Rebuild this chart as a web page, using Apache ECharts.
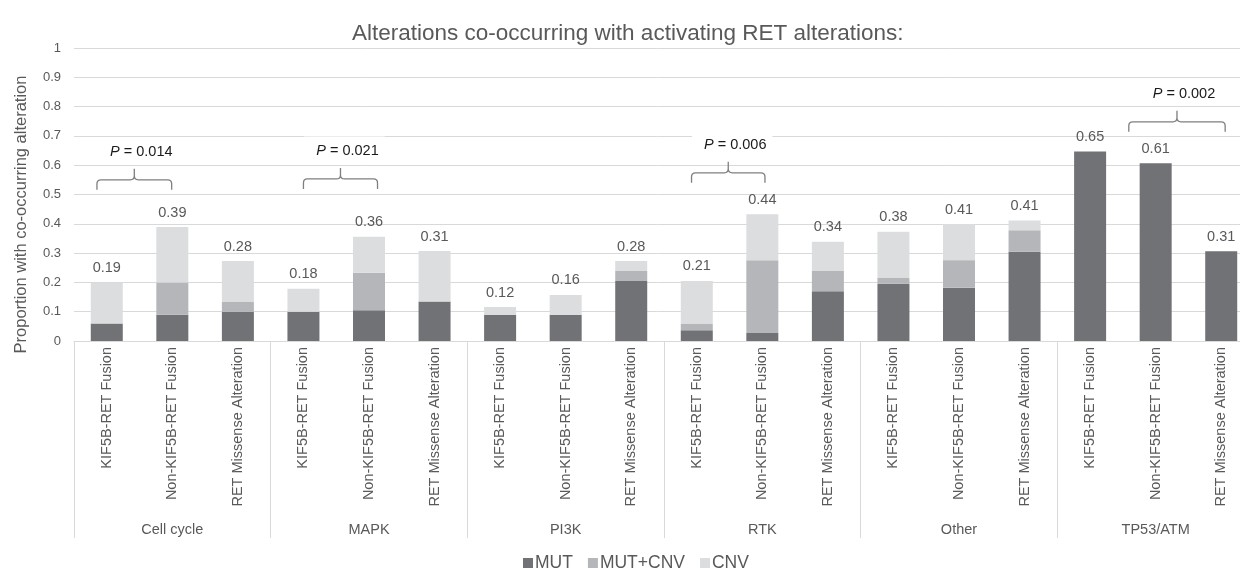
<!DOCTYPE html>
<html>
<head>
<meta charset="utf-8">
<script src="https://cdn.jsdelivr.net/npm/echarts@6/dist/echarts.min.js"></script>
<style>
html,body{margin:0;padding:0;background:#fff;}
#c{width:1240px;height:568px;}
</style>
</head>
<body>
<div id="c"></div>
<script>
const subtypes = ['KIF5B-RET Fusion', 'Non-KIF5B-RET Fusion', 'RET Missense Alteration'];
const groups = ['Cell cycle', 'MAPK', 'PI3K', 'RTK', 'Other', 'TP53/ATM'];
const categories = groups.flatMap(() => subtypes);

const mut    = [0.060, 0.090, 0.100, 0.100, 0.105, 0.135, 0.090, 0.090, 0.205, 0.037, 0.027, 0.170, 0.195, 0.182, 0.305, 0.647, 0.607, 0.306];
const mutCnv = [0.000, 0.110, 0.033, 0.000, 0.128, 0.000, 0.000, 0.000, 0.034, 0.023, 0.249, 0.069, 0.020, 0.094, 0.073, 0.000, 0.000, 0.000];
const cnv    = [0.139, 0.189, 0.140, 0.078, 0.123, 0.172, 0.026, 0.067, 0.034, 0.145, 0.157, 0.100, 0.158, 0.123, 0.033, 0.000, 0.000, 0.000];
const totalLabels = ['0.19', '0.39', '0.28', '0.18', '0.36', '0.31', '0.12', '0.16', '0.28', '0.21', '0.44', '0.34', '0.38', '0.41', '0.41', '0.65', '0.61', '0.31'];

// brackets: [startIndex, startOffset, endIndex, endOffset, yValue]
const bracketPos = [
  [0, -0.15, 1, -0.01, 0.550],
  [3, 0.00, 4, 0.13, 0.553],
  [9, -0.08, 10, 0.04, 0.574],
  [16, -0.41, 17, 0.06, 0.748]
];
const bracketP = ['0.014', '0.021', '0.006', '0.002'];

const yTicks = [0, 0.1, 0.2, 0.3, 0.4, 0.5, 0.6, 0.7, 0.8, 0.9, 1];

const FONT = '"Liberation Sans", Arial, sans-serif';
const chart = echarts.init(document.getElementById('c'), null, {renderer: 'canvas'});

function renderBracket(params, api) {
  const s = api.coord([api.value(0), 0]);
  const e = api.coord([api.value(2), 0]);
  const band = api.size([1, 0])[0];
  const x1 = s[0] + api.value(1) * band;
  const x2 = e[0] + api.value(3) * band;
  const y = api.coord([0, api.value(4)])[1];
  const xm = (x1 + x2) / 2;
  const d = 10, n = 11, r = 4;
  const path =
    'M' + x1 + ' ' + (y + d) +
    ' L' + x1 + ' ' + (y + r) +
    ' Q' + x1 + ' ' + y + ' ' + (x1 + r) + ' ' + y +
    ' L' + (xm - r) + ' ' + y +
    ' Q' + xm + ' ' + y + ' ' + xm + ' ' + (y - r) +
    ' L' + xm + ' ' + (y - n) +
    ' M' + xm + ' ' + (y - r) +
    ' Q' + xm + ' ' + y + ' ' + (xm + r) + ' ' + y +
    ' L' + (x2 - r) + ' ' + y +
    ' Q' + x2 + ' ' + y + ' ' + x2 + ' ' + (y + r) +
    ' L' + x2 + ' ' + (y + d);
  return {
    type: 'group',
    children: [
      {
        type: 'path',
        shape: {pathData: path},
        style: {stroke: '#7f7f7f', fill: 'none', lineWidth: 1.3}
      },
      {
        type: 'text',
        x: xm + 4,
        y: y - 30,
        style: {
          text: '{i|P} = ' + bracketP[params.dataIndex],
          font: '14.5px ' + FONT,
          fill: '#1a1a1a',
          align: 'center',
          verticalAlign: 'middle',
          backgroundColor: '#fff',
          padding: [7, 6, 3, 12],
          rich: {
            i: {fontStyle: 'italic', fontSize: 14.5, fontFamily: FONT, fill: '#1a1a1a', color: '#1a1a1a'}
          }
        }
      }
    ]
  };
}

chart.setOption({
  animation: false,
  backgroundColor: '#fff',
  textStyle: {fontFamily: FONT},
  title: {
    text: 'Alterations co-occurring with activating RET alterations:',
    left: 347,
    top: 17,
    textStyle: {fontSize: 22.5, fontWeight: 'normal', color: '#595959', fontFamily: FONT}
  },
  legend: {
    data: ['MUT', 'MUT+CNV', 'CNV'],
    left: 518,
    top: 549,
    icon: 'rect',
    itemWidth: 10,
    itemHeight: 10,
    itemGap: 15,
    textStyle: {fontSize: 17.5, color: '#595959', fontFamily: FONT, padding: [0, 0, 0, -3]}
  },
  grid: {left: 74, top: 48, width: 1180, height: 293, containLabel: false, outerBoundsMode: 'none'},
  xAxis: [
    {
      type: 'category',
      data: categories,
      position: 'bottom',
      offset: 0,
      axisLine: {show: true, lineStyle: {color: '#d9d9d9', width: 1}},
      axisTick: {show: false},
      axisLabel: {interval: 0, rotate: 90, fontSize: 14.5, color: '#595959', margin: 6, fontFamily: FONT},
      splitLine: {show: false}
    },
    {
      type: 'category',
      data: groups,
      position: 'bottom',
      offset: 0,
      axisLine: {show: false},
      axisTick: {show: true, length: 197, interval: 0, lineStyle: {color: '#d9d9d9', width: 1}},
      axisLabel: {interval: 0, fontSize: 14.5, color: '#595959', margin: 181, fontFamily: FONT},
      splitLine: {show: false}
    }
  ],
  yAxis: {
    type: 'value',
    min: 0,
    max: 1,
    interval: 0.1,
    name: 'Proportion with co-occurring alteration',
    nameLocation: 'middle',
    nameGap: 44,
    nameTextStyle: {fontSize: 16.5, color: '#595959', fontFamily: FONT, padding: [0, 40, 0, 0]},
    axisLine: {show: false},
    axisTick: {show: false},
    axisLabel: {
      fontSize: 13, color: '#595959', margin: 13, fontFamily: FONT,
      formatter: v => {
        const t = yTicks.find(k => Math.abs(k - v) < 1e-6);
        return t === undefined ? '' : String(t);
      }
    },
    splitLine: {show: true, lineStyle: {color: '#d9d9d9', width: 1}}
  },
  series: [
    {
      name: 'MUT', type: 'bar', stack: 'a', xAxisIndex: 0, barWidth: 32,
      itemStyle: {color: '#717276'},
      data: mut
    },
    {
      name: 'MUT+CNV', type: 'bar', stack: 'a', xAxisIndex: 0, barWidth: 32,
      itemStyle: {color: '#b5b6b9'},
      data: mutCnv
    },
    {
      name: 'CNV', type: 'bar', stack: 'a', xAxisIndex: 0, barWidth: 32,
      itemStyle: {color: '#dcdddf'},
      data: cnv,
      label: {
        show: true, position: 'top', distance: 7,
        fontSize: 14.5, color: '#595959', fontFamily: FONT,
        formatter: p => totalLabels[p.dataIndex]
      }
    },
    {
      name: 'brackets', type: 'custom', xAxisIndex: 0, clip: false, z: 5,
      encode: {x: [0, 2], y: 4},
      renderItem: renderBracket,
      data: bracketPos,
      silent: true
    }
  ]
});
</script>
</body>
</html>
